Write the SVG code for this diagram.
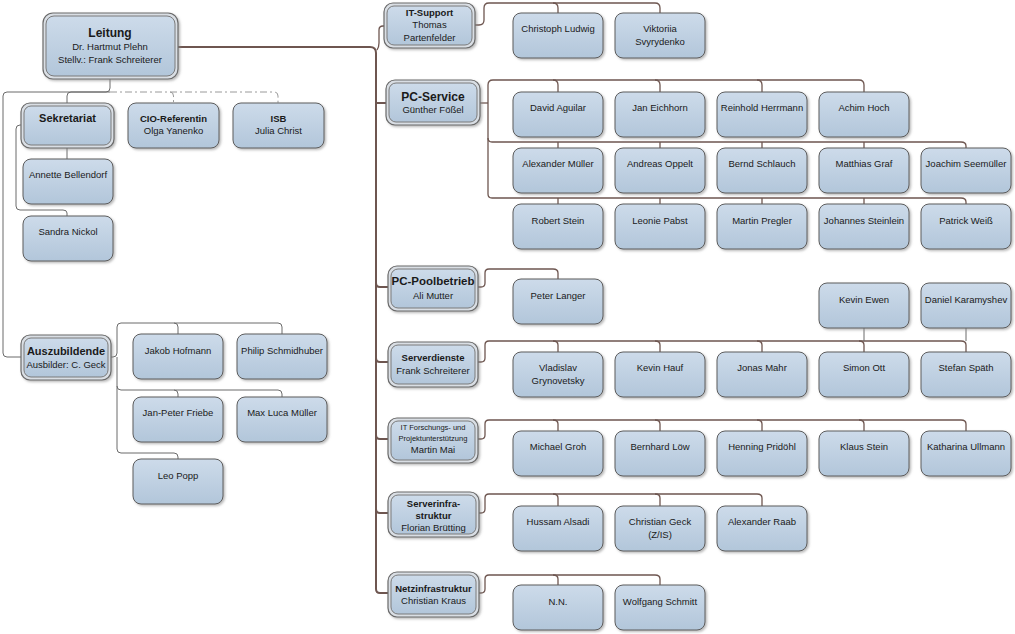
<svg xmlns="http://www.w3.org/2000/svg" width="1015" height="634" viewBox="0 0 1015 634">
<defs>
<linearGradient id="g" x1="0" y1="0" x2="0" y2="1">
<stop offset="0" stop-color="#cddbea"/>
<stop offset="1" stop-color="#b2c6da"/>
</linearGradient>
<filter id="sh" x="-10%" y="-10%" width="125%" height="130%">
<feDropShadow dx="1.5" dy="1.5" stdDeviation="1" flood-color="#8a8a8a" flood-opacity="0.6"/>
</filter>
</defs>
<style>
.p{fill:url(#g);stroke:#5c5c5c;stroke-width:1;filter:url(#sh)}
.ho{fill:#d9dee4;stroke:#6a6a6a;stroke-width:1.2;filter:url(#sh)}
.hi{fill:url(#g);stroke:#7a7a7a;stroke-width:1}
text{font-family:"Liberation Sans",Arial,sans-serif;fill:#1a1a1a;text-anchor:middle;font-size:9.5px}
.b{font-weight:bold}
.c{fill:none;stroke:#6b6b6b;stroke-width:1}
.r{fill:none;stroke:#6e5650;stroke-width:1.3}
.t{fill:none;stroke:#6e5650;stroke-width:2}
.d{fill:none;stroke:#9a9a9a;stroke-width:1;stroke-dasharray:7,3,2,3}
</style>
<rect width="1015" height="634" fill="#ffffff"/>
<g id="connectors">
<path class="t" d="M178,47 H370 Q376,47 376,53 V589 Q376,593 380,593 H388"/>
<path class="r" d="M377,50 Q379,47 379,43 V30 Q379,26 383,26 H384"/>
<path class="t" d="M376,103 H386"/>
<path class="t" d="M376,283 Q376,287 380,287 H388"/>
<path class="t" d="M376,358 Q376,362 380,362 H388"/>
<path class="t" d="M376,435 Q376,439 380,439 H388"/>
<path class="t" d="M376,509 Q376,513 380,513 H388"/>
<path class="c" d="M110,79 V88 Q110,92 106,92 H7 Q3,92 3,96 V353 Q3,357 7,357 H21"/>
<path class="c" d="M110,92 H71 Q67,92 67,96 V103"/>
<path class="d" d="M110,92 H274 Q278,92 278,96 V103"/>
<path class="d" d="M170,92 Q173.5,92 173.5,96 V103"/>
<path class="c" d="M21,125 H20 Q16,125 16,129 V206 Q16,210 20,210 H63 Q67,210 67,213 V216"/>
<path class="c" d="M67,148 V159"/>
<path class="c" d="M111,357 H113 Q117,357 117,353 V327 Q117,323 121,323 H278 Q282,323 282,327 V334"/>
<path class="c" d="M174,323 Q178,323 178,327 V334"/>
<path class="c" d="M117,357 V386 Q117,390 121,390 H278 Q282,390 282,394 V397"/>
<path class="c" d="M174,390 Q178,390 178,394 V397"/>
<path class="c" d="M117,386 V449 Q117,453 121,453 H174 Q178,453 178,457 V459"/>
<path class="r" d="M475,25 H479 Q484,25 484,20 V8 Q484,3 489,3 H655 Q660,3 660,8 V13"/>
<path class="r" d="M553,3 Q558,3 558,8 V13"/>
<path class="r" d="M480,103 H488"/>
<path class="r" d="M488,85 Q488,80 493,80 H859 Q864,80 864,85 V92"/>
<path class="r" d="M553,80 Q558,80 558,85 V92 M655,80 Q660,80 660,85 V92 M757,80 Q762,80 762,85 V92"/>
<path class="r" d="M488,85 V194 Q488,198 492,198 H961 Q966,198 966,202 V204"/>
<path class="r" d="M488,138 Q488,142 492,142 H961 Q966,142 966,146 V148"/>
<path class="r" d="M558,142 V148 M660,142 V148 M762,142 V148 M864,142 V148"/>
<path class="r" d="M558,198 V204 M660,198 V204 M762,198 V204 M864,198 V204"/>
<path class="r" d="M478,287 H481 Q485,287 485,283 V273 Q485,269 489,269 H553 Q558,269 558,273 V279"/>
<path class="r" d="M478,362 H481 Q485,362 485,358 V345 Q485,341 489,341 H961 Q966,341 966,345 V352"/>
<path class="r" d="M553,341 Q558,341 558,345 V352 M655,341 Q660,341 660,345 V352 M757,341 Q762,341 762,345 V352 M859,341 Q864,341 864,345 V352"/>
<path class="c" d="M864,328 V341 M966,328 V341"/>
<path class="r" d="M478,439 H481 Q485,439 485,435 V424 Q485,420 489,420 H961 Q966,420 966,424 V431"/>
<path class="r" d="M553,420 Q558,420 558,424 V431 M655,420 Q660,420 660,424 V431 M757,420 Q762,420 762,424 V431 M859,420 Q864,420 864,424 V431"/>
<path class="r" d="M479,513 H481 Q485,513 485,509 V498 Q485,494 489,494 H757 Q762,494 762,498 V506"/>
<path class="r" d="M553,494 Q558,494 558,498 V506 M655,494 Q660,494 660,498 V506"/>
<path class="r" d="M479,593 H481 Q485,593 485,589 V579 Q485,575 489,575 H655 Q660,575 660,579 V585"/>
<path class="r" d="M553,575 Q558,575 558,579 V585"/>
</g>

<g id="leitung"><rect class="ho" x="43" y="13" width="135" height="66" rx="10"/><rect class="hi" x="46" y="16" width="129" height="60" rx="8"/>
<text class="b" x="110" y="37" style="font-size:12px">Leitung</text><text x="110" y="50">Dr. Hartmut Plehn</text><text x="110" y="63">Stellv.: Frank Schreiterer</text></g>
<g id="sekretariat"><rect class="ho" x="21" y="103" width="93" height="45" rx="9"/><rect class="hi" x="24" y="106" width="87" height="39" rx="7"/>
<text class="b" x="67.5" y="122" style="font-size:11px">Sekretariat</text></g>
<g id="cio"><rect class="p" x="128" y="103" width="91" height="45" rx="8"/><text class="b" x="173.5" y="122">CIO-Referentin</text><text x="173.5" y="134">Olga Yanenko</text></g>
<g id="isb"><rect class="p" x="233" y="103" width="91" height="45" rx="8"/><text class="b" x="278.5" y="122">ISB</text><text x="278.5" y="134">Julia Christ</text></g>
<g id="bellendorf"><rect class="p" x="23" y="159" width="90" height="45" rx="8"/><text x="68" y="178">Annette Bellendorf</text></g>
<g id="nickol"><rect class="p" x="23" y="216" width="90" height="45" rx="8"/><text x="68" y="235">Sandra Nickol</text></g>

<g id="auszubildende"><rect class="ho" x="21" y="335" width="90" height="45" rx="9"/><rect class="hi" x="24" y="338" width="84" height="39" rx="7"/>
<text class="b" x="66" y="355" style="font-size:11px">Auszubildende</text><text x="66" y="368">Ausbilder: C. Geck</text></g>
<g id="hofmann"><rect class="p" x="133" y="334" width="90" height="45" rx="8"/><text x="178" y="354">Jakob Hofmann</text></g>
<g id="schmidhuber"><rect class="p" x="237" y="334" width="90" height="45" rx="8"/><text x="282" y="354">Philip Schmidhuber</text></g>
<g id="friebe"><rect class="p" x="133" y="397" width="90" height="45" rx="8"/><text x="178" y="416">Jan-Peter Friebe</text></g>
<g id="mueller-ml"><rect class="p" x="237" y="397" width="90" height="45" rx="8"/><text x="282" y="416">Max Luca Müller</text></g>
<g id="popp"><rect class="p" x="133" y="459" width="90" height="45" rx="8"/><text x="178" y="479">Leo Popp</text></g>

<g id="it-support"><rect class="ho" x="384" y="3" width="91" height="45" rx="9"/><rect class="hi" x="387" y="6" width="85" height="39" rx="7"/>
<text class="b" x="429.5" y="16">IT-Support</text><text x="429.5" y="28">Thomas</text><text x="429.5" y="41">Partenfelder</text></g>
<g id="ludwig"><rect class="p" x="513" y="13" width="90" height="45" rx="8"/><text x="558" y="32">Christoph Ludwig</text></g>
<g id="svyrydenko"><rect class="p" x="615" y="13" width="90" height="45" rx="8"/><text x="660" y="32">Viktoriia</text><text x="660" y="45">Svyrydenko</text></g>

<g id="pc-service"><rect class="ho" x="386" y="80" width="94" height="45" rx="9"/><rect class="hi" x="389" y="83" width="88" height="39" rx="7"/>
<text class="b" x="433" y="101" style="font-size:12px">PC-Service</text><text x="433" y="113">Günther Fößel</text></g>
<g id="aguilar"><rect class="p" x="513" y="92" width="90" height="45" rx="8"/><text x="558" y="111">David Aguilar</text></g>
<g id="eichhorn"><rect class="p" x="615" y="92" width="90" height="45" rx="8"/><text x="660" y="111">Jan Eichhorn</text></g>
<g id="herrmann"><rect class="p" x="717" y="92" width="90" height="45" rx="8"/><text x="762" y="111">Reinhold Herrmann</text></g>
<g id="hoch"><rect class="p" x="819" y="92" width="90" height="45" rx="8"/><text x="864" y="111">Achim Hoch</text></g>
<g id="mueller-a"><rect class="p" x="513" y="148" width="90" height="45" rx="8"/><text x="558" y="167">Alexander Müller</text></g>
<g id="oppelt"><rect class="p" x="615" y="148" width="90" height="45" rx="8"/><text x="660" y="167">Andreas Oppelt</text></g>
<g id="schlauch"><rect class="p" x="717" y="148" width="90" height="45" rx="8"/><text x="762" y="167">Bernd Schlauch</text></g>
<g id="graf"><rect class="p" x="819" y="148" width="90" height="45" rx="8"/><text x="864" y="167">Matthias Graf</text></g>
<g id="seemueller"><rect class="p" x="921" y="148" width="90" height="45" rx="8"/><text x="966" y="167">Joachim Seemüller</text></g>
<g id="stein-r"><rect class="p" x="513" y="204" width="90" height="45" rx="8"/><text x="558" y="224">Robert Stein</text></g>
<g id="pabst"><rect class="p" x="615" y="204" width="90" height="45" rx="8"/><text x="660" y="224">Leonie Pabst</text></g>
<g id="pregler"><rect class="p" x="717" y="204" width="90" height="45" rx="8"/><text x="762" y="224">Martin Pregler</text></g>
<g id="steinlein"><rect class="p" x="819" y="204" width="90" height="45" rx="8"/><text x="864" y="224">Johannes Steinlein</text></g>
<g id="weiss"><rect class="p" x="921" y="204" width="90" height="45" rx="8"/><text x="966" y="224">Patrick Weiß</text></g>

<g id="pc-pool"><rect class="ho" x="388" y="266" width="90" height="45" rx="9"/><rect class="hi" x="391" y="269" width="84" height="39" rx="7"/>
<text class="b" x="433" y="285" style="font-size:11.5px">PC-Poolbetrieb</text><text x="433" y="299">Ali Mutter</text></g>
<g id="langer"><rect class="p" x="513" y="279" width="90" height="45" rx="8"/><text x="558" y="299">Peter Langer</text></g>

<g id="serverdienste"><rect class="ho" x="388" y="342" width="90" height="45" rx="9"/><rect class="hi" x="391" y="345" width="84" height="39" rx="7"/>
<text class="b" x="433" y="361">Serverdienste</text><text x="433" y="374">Frank Schreiterer</text></g>
<g id="ewen"><rect class="p" x="819" y="283" width="90" height="45" rx="8"/><text x="864" y="303">Kevin Ewen</text></g>
<g id="karamyshev"><rect class="p" x="921" y="283" width="90" height="45" rx="8"/><text x="966" y="303">Daniel Karamyshev</text></g>
<g id="grynovetsky"><rect class="p" x="513" y="352" width="90" height="45" rx="8"/><text x="558" y="371">Vladislav</text><text x="558" y="384">Grynovetsky</text></g>
<g id="hauf"><rect class="p" x="615" y="352" width="90" height="45" rx="8"/><text x="660" y="371">Kevin Hauf</text></g>
<g id="mahr"><rect class="p" x="717" y="352" width="90" height="45" rx="8"/><text x="762" y="371">Jonas Mahr</text></g>
<g id="ott"><rect class="p" x="819" y="352" width="90" height="45" rx="8"/><text x="864" y="371">Simon Ott</text></g>
<g id="spaeth"><rect class="p" x="921" y="352" width="90" height="45" rx="8"/><text x="966" y="371">Stefan Späth</text></g>

<g id="it-forschung"><rect class="ho" x="388" y="418" width="90" height="45" rx="9"/><rect class="hi" x="391" y="421" width="84" height="39" rx="7"/>
<text x="433" y="430" style="font-size:7.5px">IT Forschungs- und</text><text x="433" y="441" style="font-size:7.5px">Projektunterstützung</text><text x="433" y="453">Martin Mai</text></g>
<g id="groh"><rect class="p" x="513" y="431" width="90" height="45" rx="8"/><text x="558" y="450">Michael Groh</text></g>
<g id="loew"><rect class="p" x="615" y="431" width="90" height="45" rx="8"/><text x="660" y="450">Bernhard Löw</text></g>
<g id="pridoehl"><rect class="p" x="717" y="431" width="90" height="45" rx="8"/><text x="762" y="450">Henning Pridöhl</text></g>
<g id="stein-k"><rect class="p" x="819" y="431" width="90" height="45" rx="8"/><text x="864" y="450">Klaus Stein</text></g>
<g id="ullmann"><rect class="p" x="921" y="431" width="90" height="45" rx="8"/><text x="966" y="450">Katharina Ullmann</text></g>

<g id="serverinfra"><rect class="ho" x="388" y="492" width="91" height="45" rx="9"/><rect class="hi" x="391" y="495" width="85" height="39" rx="7"/>
<text class="b" x="433.5" y="507">Serverinfra-</text><text class="b" x="433.5" y="519">struktur</text><text x="433.5" y="531">Florian Brütting</text></g>
<g id="alsadi"><rect class="p" x="513" y="506" width="90" height="45" rx="8"/><text x="558" y="525">Hussam Alsadi</text></g>
<g id="geck"><rect class="p" x="615" y="506" width="90" height="45" rx="8"/><text x="660" y="525">Christian Geck</text><text x="660" y="538">(Z/IS)</text></g>
<g id="raab"><rect class="p" x="717" y="506" width="90" height="45" rx="8"/><text x="762" y="525">Alexander Raab</text></g>

<g id="netzinfra"><rect class="ho" x="388" y="572" width="91" height="45" rx="9"/><rect class="hi" x="391" y="575" width="85" height="39" rx="7"/>
<text class="b" x="433.5" y="592">Netzinfrastruktur</text><text x="433.5" y="604">Christian Kraus</text></g>
<g id="nn"><rect class="p" x="513" y="585" width="90" height="45" rx="8"/><text x="558" y="605">N.N.</text></g>
<g id="schmitt"><rect class="p" x="615" y="585" width="90" height="45" rx="8"/><text x="660" y="605">Wolfgang Schmitt</text></g>
</svg>
